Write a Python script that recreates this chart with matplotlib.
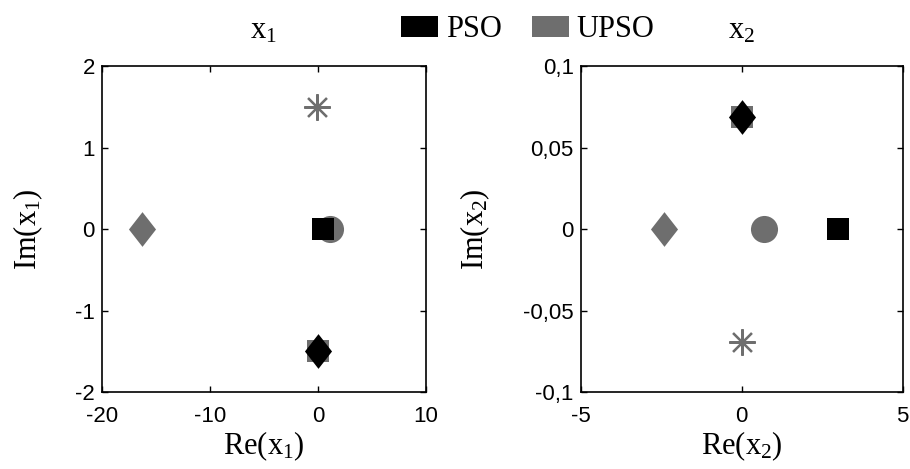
import numpy as np
import matplotlib
matplotlib.use("Agg")
import matplotlib.pyplot as plt
from matplotlib.patches import Patch

plt.rcParams['font.family'] = ['Liberation Sans', 'DejaVu Sans']
plt.rcParams['mathtext.fontset'] = 'custom'
plt.rcParams['mathtext.rm'] = 'Liberation Serif'
plt.rcParams['mathtext.it'] = 'Liberation Serif:italic'

# roots in the complex plane, order: square, diamond
x1_pso_re = [0.5, 0.0]
x1_pso_im = [0.0, -1.5]
x2_pso_re = [3.0, 0.0]
x2_pso_im = [0.0, 0.069]

# order: circle, diamond, asterisk, square
x1_upso_re = [1.1, -16.3, -0.1, 0.0]
x1_upso_im = [0.0, 0.0, 1.5, -1.5]
x2_upso_re = [0.7, -2.4, 0.0, 0.0]
x2_upso_im = [0.0, 0.0, -0.069, 0.069]

x1_xticks = [-20, -10, 0, 10]
x1_yticks = [-2, -1, 0, 1, 2]
x2_xticks = [-5, 0, 5]
x2_yticks = [-0.1, -0.05, 0, 0.05, 0.1]
x2_ylabels = ['-0,1', '-0,05', '0', '0,05', '0,1']

BLACK = 'black'
GRAY = '#6e6e6e'
SERIF = 'Liberation Serif'
diamond = [(0, 1), (0.78, 0), (0, -1), (-0.78, 0), (0, 1)]
upso_mk = ['o', diamond, (8, 2, 0), 's']
upso_ms = [19.5, 25, 19, 16.5]
pso_mk = ['s', diamond]
pso_ms = [16.5, 25]

fig = plt.figure(figsize=(9.1, 4.69), dpi=100)
ax1 = fig.add_axes([0.112, 0.164, 0.356, 0.695])
ax2 = fig.add_axes([0.638, 0.164, 0.354, 0.695])


def draw(ax, ure, uim, pre, pim):
    for re, im, mk, ms in zip(ure, uim, upso_mk, upso_ms):
        if mk == (8, 2, 0):
            ax.plot(re, im, marker=mk, ms=ms, color=GRAY, mew=1.6, ls='none')
        else:
            ax.plot(re, im, marker=mk, ms=ms, color=GRAY, mew=0, ls='none')
    for re, im, mk, ms in zip(pre, pim, pso_mk, pso_ms):
        ax.plot(re, im, marker=mk, ms=ms, color=BLACK, mew=0, ls='none')


draw(ax1, x1_upso_re, x1_upso_im, x1_pso_re, x1_pso_im)
draw(ax2, x2_upso_re, x2_upso_im, x2_pso_re, x2_pso_im)

ax1.set_xlim(-20, 10)
ax1.set_ylim(-2, 2)
ax1.set_xticks(x1_xticks)
ax1.set_yticks(x1_yticks)
ax1.set_xticklabels([str(t) for t in x1_xticks])
ax1.set_yticklabels([str(t) for t in x1_yticks])

ax2.set_xlim(-5, 5)
ax2.set_ylim(-0.1, 0.1)
ax2.set_xticks(x2_xticks)
ax2.set_yticks(x2_yticks)
ax2.set_xticklabels([str(t) for t in x2_xticks])
ax2.set_yticklabels(x2_ylabels)

for ax, n in ((ax1, 1), (ax2, 2)):
    ax.tick_params(direction='in', length=4, width=1, top=True, right=True,
                   labelsize=16)
    ax.tick_params(axis='x', pad=10)
    ax.tick_params(axis='y', pad=5)
    for s in ax.spines.values():
        s.set_linewidth(1.2)
    ax.set_xlabel(f'Re(x$_{n}$)', fontsize=22, labelpad=2, family=SERIF)
    ax.set_ylabel(f'Im(x$_{n}$)', fontsize=22, labelpad=22, family=SERIF)
    ax.set_title(f'x$_{n}$', fontsize=22, pad=20, family=SERIF)

handles = [Patch(facecolor=BLACK, edgecolor='none', label='PSO'),
           Patch(facecolor=GRAY, edgecolor='none', label='UPSO')]
fig.legend(handles=handles, loc='upper center', bbox_to_anchor=(0.58, 1.0),
           ncol=2, frameon=False, handlelength=1.2, handleheight=0.72,
           handletextpad=0.25, columnspacing=1.0, borderaxespad=0.1,
           prop={'family': SERIF, 'size': 22})

fig.savefig('out.png', dpi=100)
